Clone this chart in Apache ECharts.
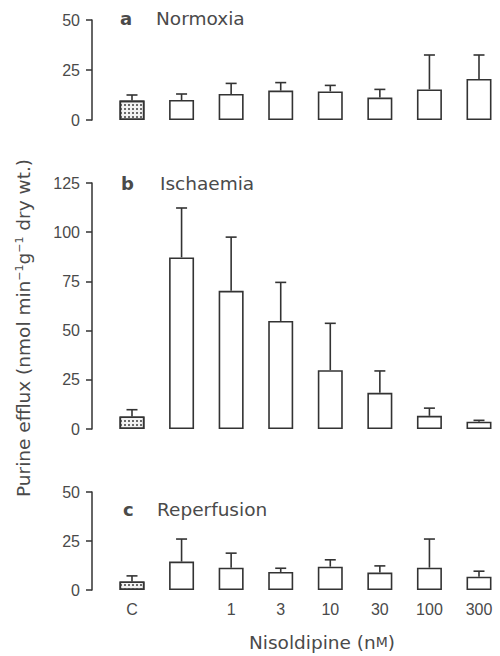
<!DOCTYPE html>
<html>
<head>
<meta charset="utf-8">
<script src="https://cdn.jsdelivr.net/npm/echarts@6/dist/echarts.min.js"></script>
<style>
  html, body { margin: 0; padding: 0; background: #fff; }
  #chart { width: 500px; height: 656px; }
</style>
</head>
<body>
<div id="chart"></div>
<script>
// Nisoldipine concentrations (nM); first column is control, second is drug-free ischaemia
const categories = ['C', '', '1', '3', '10', '30', '100', '300'];

// Purine efflux, mean and s.e.mean (nmol min-1 g-1 dry wt.)
const normoxiaMean = [9.7, 10.0, 13.0, 14.7, 14.3, 11.2, 15.3, 20.5];
const normoxiaSem  = [2.8, 3.0, 5.3, 4.0, 3.0, 4.1, 17.2, 12.0];
const ischaemiaMean = [6.4, 87.2, 70.2, 54.9, 29.9, 18.4, 6.7, 3.7];
const ischaemiaSem  = [3.4, 25.1, 27.3, 19.6, 23.8, 11.1, 3.9, 0.7];
const reperfusionMean = [4.4, 14.5, 11.4, 9.2, 11.9, 8.9, 11.4, 6.8];
const reperfusionSem  = [2.8, 11.5, 7.4, 1.9, 3.5, 3.4, 14.6, 2.8];

const yTicksSmall = { max: 50, interval: 25 };
const yTicksLarge = { max: 125, interval: 25 };

const INK = '#333';
const TEXT = '#4a4a4a';
const TITLE_FONT = '"DejaVu Sans", sans-serif';
const TICK_FONT = '"Liberation Sans", Arial, sans-serif';

const panels = [
  { mean: normoxiaMean, sem: normoxiaSem, ticks: yTicksSmall, top: 20, bottom: 536, labels: false },
  { mean: ischaemiaMean, sem: ischaemiaSem, ticks: yTicksLarge, top: 183, bottom: 227, labels: false },
  { mean: reperfusionMean, sem: reperfusionSem, ticks: yTicksSmall, top: 492, bottom: 66, labels: true }
];

// Control bar gets a dotted fill
function barData(values) {
  return values.map((v, i) => i === 0 ? {
    value: v,
    itemStyle: {
      color: '#f2f2f2',
      decal: { symbol: 'rect', symbolSize: 1, dashArrayX: [1.5, 1.5], dashArrayY: [1.5, 1.5], color: '#6a6a6a', rotation: 0 }
    }
  } : v);
}

// Upper error bar: vertical stem from the bar top plus a horizontal cap
function renderErrorBar(params, api) {
  const i = api.value(0);
  const m = api.value(1);
  const s = api.value(2);
  const base = api.coord([i, m]);
  const top = api.coord([i, m + s]);
  const half = 5.5;
  const style = { stroke: INK, lineWidth: 1.6 };
  return {
    type: 'group',
    children: [
      { type: 'line', shape: { x1: base[0], y1: base[1], x2: top[0], y2: top[1] }, style },
      { type: 'line', shape: { x1: top[0] - half, y1: top[1], x2: top[0] + half, y2: top[1] }, style }
    ]
  };
}

const grid = [], xAxis = [], yAxis = [], series = [];
panels.forEach((p, k) => {
  grid.push({ left: 132, right: 21, top: p.top, bottom: p.bottom });
  xAxis.push({
    type: 'category', gridIndex: k, data: categories, boundaryGap: false,
    axisLine: { show: false }, axisTick: { show: false }, splitLine: { show: false },
    axisLabel: { show: p.labels, color: TEXT, fontFamily: TICK_FONT, fontSize: 16, margin: 11 }
  });
  yAxis.push({
    type: 'value', gridIndex: k, min: 0, max: p.ticks.max, interval: p.ticks.interval, offset: 40,
    axisLine: { show: true, lineStyle: { color: INK, width: 1.5 } },
    axisTick: { show: true, length: 6, lineStyle: { color: INK, width: 1.5 } },
    splitLine: { show: false },
    axisLabel: { color: TEXT, fontFamily: TICK_FONT, fontSize: 16, margin: 12 }
  });
  series.push({
    type: 'bar', xAxisIndex: k, yAxisIndex: k, barWidth: 25,
    data: barData(p.mean),
    itemStyle: { color: '#fff', borderColor: INK, borderWidth: 1.6 },
    animation: false
  });
  series.push({
    type: 'custom', xAxisIndex: k, yAxisIndex: k, z: 3,
    renderItem: renderErrorBar,
    data: p.mean.map((m, i) => [i, m, p.sem[i]]),
    animation: false
  });
});

function panelLabel(letter, name, y, xLetter, xName) {
  return [
    { type: 'text', left: xLetter, top: y - 11, style: { text: letter, fill: TEXT, font: 'bold 18px ' + TITLE_FONT } },
    { type: 'text', left: xName, top: y - 11, style: { text: name, fill: TEXT, font: '18.5px ' + TITLE_FONT } }
  ];
}

const chart = echarts.init(document.getElementById('chart'), null, { renderer: 'svg' });
chart.setOption({
  animation: false,
  grid, xAxis, yAxis, series,
  graphic: [
    ...panelLabel('a', 'Normoxia', 20, 120, 156),
    ...panelLabel('b', 'Ischaemia', 185, 121, 160),
    ...panelLabel('c', 'Reperfusion', 511, 123, 157),
    {
      type: 'text', x: 23, y: 328, rotation: Math.PI / 2,
      style: {
        text: 'Purine efflux (nmol min{sup|−1}g{sup|−1} dry wt.)',
        fill: TEXT, font: '18.5px ' + TITLE_FONT, align: 'center', verticalAlign: 'middle',
        rich: { sup: { fontSize: 11, fontFamily: TITLE_FONT, verticalAlign: 'top', lineHeight: 12, fill: TEXT } }
      }
    },
    {
      type: 'text', x: 322, y: 642,
      style: {
        text: 'Nisoldipine (n{sc|M})',
        fill: TEXT, font: '18.5px ' + TITLE_FONT, align: 'center', verticalAlign: 'middle',
        rich: { sc: { fontSize: 14, fontFamily: TITLE_FONT, fill: TEXT } }
      }
    }
  ]
});
</script>
</body>
</html>
